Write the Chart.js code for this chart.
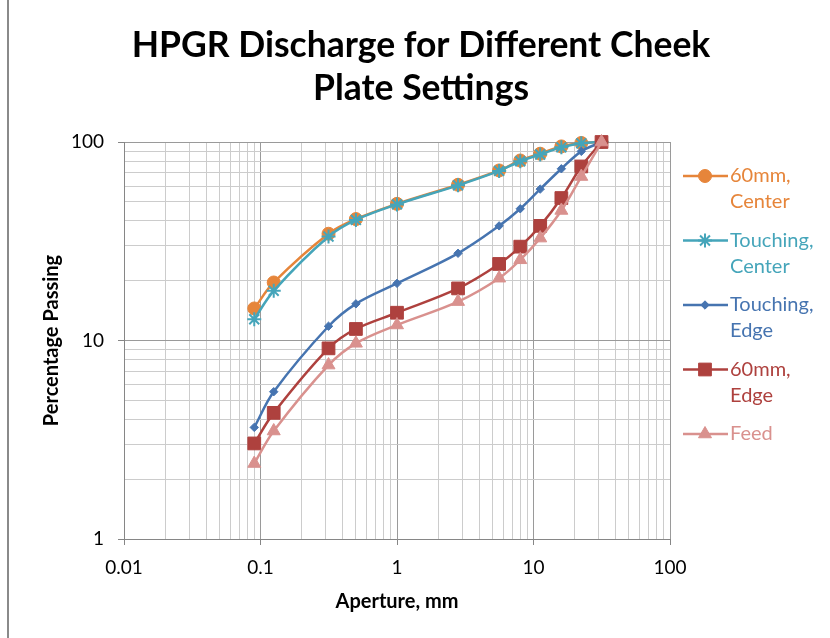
<!DOCTYPE html>
<html><head><meta charset="utf-8">
<script src="https://cdn.jsdelivr.net/npm/chart.js@4/dist/chart.umd.min.js"></script>
<style>html,body{margin:0;padding:0;background:#fff;overflow:hidden}#wrap{position:relative;width:830px;height:638px}</style>
</head><body><div id="wrap"><canvas id="c" width="830" height="638"></canvas></div>
<script>
// ---- data ----
const apertures = [0.09, 0.125, 0.315, 0.5, 1, 2.8, 5.6, 8, 11.2, 16, 22.4, 31.5];
const center60 = [14.5, 19.6, 34.5, 40.9, 48.8, 60.9, 71.9, 80.7, 87.3, 95, 98.9, 100];
const touchingCenter = [12.8, 17.8, 33.4, 40.5, 48.5, 60.5, 71.5, 80, 86.5, 94, 98.5, 100];
const touchingEdge = [3.65, 5.52, 11.8, 15.3, 19.4, 27.5, 37.8, 46.1, 57.9, 73.3, 89.7, 100];
const edge60 = [3.03, 4.32, 9.13, 11.43, 13.8, 18.3, 24.3, 29.7, 37.8, 52.2, 75.3, 100];
const feed = [2.4, 3.5, 7.52, 9.68, 11.97, 15.7, 20.6, 25.5, 32.8, 45.2, 67, 100];
const seriesNames = [['60mm,', 'Center'], ['Touching,', 'Center'], ['Touching,', 'Edge'], ['60mm,', 'Edge'], ['Feed']];
const titleLines = ['HPGR Discharge for Different Cheek', 'Plate Settings'];
const xTickLabels = ['0.01', '0.1', '1', '10', '100'];
const yTickLabels = ['1', '10', '100'];
const minorSteps = [2, 3, 4, 5, 6, 7, 8, 9];

// ---- styles ----
const colors = ['#E6853A', '#45A5BA', '#4674B0', '#AE413E', '#D9918E'];
const markers = [
  {style: 'circle', r: 6.5, bw: 1},
  {style: 'star', r: 7, bw: 2},
  {style: 'rectRot', r: 4.2, bw: 1},
  {style: 'rect', r: 9, bw: 1},
  {style: 'triangle', r: 7.5, bw: 1}
];
const seriesValues = [center60, touchingCenter, touchingEdge, edge60, feed];

function gridValues(labels) {
  const majors = labels.map(Number);
  const vals = [];
  majors.forEach((m, i) => {
    vals.push({value: m, major: true, label: labels[i]});
    if (i < majors.length - 1) minorSteps.forEach(s => vals.push({value: +(m * s).toPrecision(6), major: false, label: ''}));
  });
  return vals;
}
const xGrid = gridValues(xTickLabels);
const yGrid = gridValues(yTickLabels);

const datasets = seriesValues.map((vals, i) => ({
  label: seriesNames[i].join(' '),
  data: apertures.map((a, j) => ({x: a, y: vals[j]})),
  borderColor: colors[i],
  backgroundColor: colors[i],
  pointBackgroundColor: colors[i],
  pointBorderColor: colors[i],
  pointStyle: markers[i].style,
  pointRadius: markers[i].r,
  pointBorderWidth: markers[i].bw,
  borderWidth: 2.5,
  tension: 0.35,
  fill: false,
  clip: false,
  order: seriesValues.length - 1 - i
}));

const gridColor = ctx => (ctx.tick && ctx.tick.major) ? '#9a9a9a' : '#cccccc';
const tickColor = ctx => (ctx.tick && ctx.tick.major) ? '#868686' : 'rgba(0,0,0,0)';

const decor = {
  id: 'decor',
  beforeDraw(chart) {
    const ctx = chart.ctx;
    ctx.save();
    ctx.fillStyle = '#8a8a8a';
    ctx.fillRect(7, 0, 2, chart.height);
    ctx.restore();
  },
  afterDraw(chart) {
    const ctx = chart.ctx;
    ctx.save();
    ctx.fillStyle = '#000';
    ctx.textAlign = 'center';
    ctx.textBaseline = 'middle';
    ctx.font = 'bold 35.5px Lato';
    titleLines.forEach((t, i) => ctx.fillText(t, 421, 46 + i * 43));
    // legend
    let y = 176;
    ctx.font = '20px Lato';
    ctx.textAlign = 'left';
    seriesNames.forEach((lines, i) => {
      ctx.strokeStyle = colors[i];
      ctx.lineWidth = 2.5;
      ctx.beginPath(); ctx.moveTo(683, y); ctx.lineTo(728, y); ctx.stroke();
      ctx.fillStyle = colors[i];
      ctx.strokeStyle = colors[i];
      ctx.lineWidth = markers[i].bw;
      ctx.beginPath();
      Chart.helpers.drawPoint(ctx, {pointStyle: markers[i].style, radius: markers[i].r, borderWidth: markers[i].bw, rotation: 0}, 705, y);
      lines.forEach((ln, k) => ctx.fillText(ln, 730, y + k * 26));
      y += lines.length * 26 + 12.5;
    });
    ctx.restore();
  }
};

new Chart(document.getElementById('c'), {
  type: 'line',
  data: {datasets},
  plugins: [decor],
  options: {
    responsive: false,
    animation: false,
    layout: {padding: {left: 40, top: 142, right: 160, bottom: 24}},
    plugins: {legend: {display: false}, title: {display: false}, tooltip: {enabled: false}},
    scales: {
      x: {
        type: 'logarithmic', min: 0.01, max: 100,
        afterBuildTicks: s => { s.ticks = xGrid.map(t => ({value: t.value, major: t.major, label: t.label})); },
        afterFit: s => { s.height = 75; },
        ticks: {autoSkip: false, maxRotation: 0, padding: 11, color: '#000', font: {family: 'Lato', size: 19},
          callback: function(v, i) { return xGrid[i] ? xGrid[i].label : ''; }},
        grid: {color: gridColor, tickColor: tickColor, tickLength: 6, lineWidth: 1},
        border: {color: '#868686', width: 1},
        title: {display: true, text: 'Aperture, mm', color: '#000', font: {family: 'Lato', size: 20, weight: 'bold'}, padding: 0}
      },
      y: {
        type: 'logarithmic', min: 1, max: 100,
        afterBuildTicks: s => { s.ticks = yGrid.map(t => ({value: t.value, major: t.major, label: t.label})); },
        afterFit: s => { s.width = 84; },
        ticks: {autoSkip: false, padding: 14, color: '#000', font: {family: 'Lato', size: 19},
          callback: function(v, i) { return yGrid[i] ? yGrid[i].label : ''; }},
        grid: {color: gridColor, tickColor: tickColor, tickLength: 6, lineWidth: 1},
        border: {color: '#868686', width: 1},
        title: {display: true, text: 'Percentage Passing', color: '#000', font: {family: 'Lato', size: 20, weight: 'bold'}, padding: 0}
      }
    }
  }
});
</script>
</body></html>
